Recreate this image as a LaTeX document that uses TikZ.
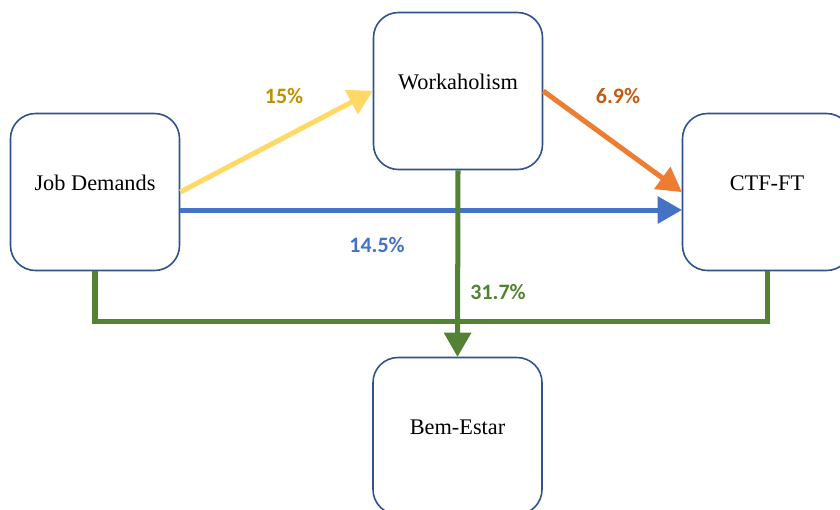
\documentclass[tikz,border=0pt]{standalone}
\usepackage{fontspec}
\setmainfont{Liberation Serif}
\newfontfamily\pctfont{Carlito}
\usepackage{tikz}
\usetikzlibrary{arrows}
\definecolor{boxblue}{HTML}{2F528F}
\definecolor{lineyellow}{HTML}{FFD966}
\definecolor{textgold}{HTML}{BF9000}
\definecolor{lineorange}{HTML}{ED7D31}
\definecolor{textorange}{HTML}{C55A11}
\definecolor{lineblue}{HTML}{4472C4}
\definecolor{linegreen}{HTML}{548235}
\tikzset{
	varbox/.style={draw=boxblue, line width=0.9pt, rounded corners=0.5cm, fill=white,
		minimum width=3.38cm, minimum height=3.14cm, font=\fontsize{12.7}{14}\selectfont,
		text height=0.3cm, text depth=0.38cm},
	pct/.style={font=\pctfont\bfseries\fontsize{12.5}{14}\selectfont},
	path/.style={line width=2.85pt}
}

\begin{document}
\begin{tikzpicture}
				\useasboundingbox (0, 0) rectangle (16.8, -10.18);
				% Boxes:
				\node[varbox](JD) at (1.9, -3.84){Job Demands};
				\node[varbox](WK) at (9.16, -1.82){Workaholism};
				\node[varbox](CTF) at (15.34, -3.84){CTF-FT};
				\node[varbox](BE) at (9.15, -8.72){Bem-Estar};
				% Paths:
				\draw[path, draw=linegreen] (JD.south) -- ++(0, -1) -| (CTF.south);
				\draw[path, draw=lineyellow, -triangle 60] (JD.east) -- (WK.west);
				\draw[path, draw=lineorange, -triangle 60] (WK.east) -- (CTF.west);
				\draw[path, draw=lineblue, -triangle 60] ([yshift=-0.36cm]JD.east) -- ([yshift=-0.36cm]CTF.west);
				\draw[path, draw=linegreen, -triangle 60] (WK.south) -- (BE.north);
				% Percentages:
				\node[pct, text=textgold](P1) at (5.68, -1.92){15\%};
				\node[pct, text=textorange](P2) at (12.36, -1.92){6.9\%};
				\node[pct, text=lineblue](P3) at (7.54, -4.9){14.5\%};
				\node[pct, text=linegreen](P4) at (9.96, -5.84){31.7\%};
			\end{tikzpicture}
\end{document}
